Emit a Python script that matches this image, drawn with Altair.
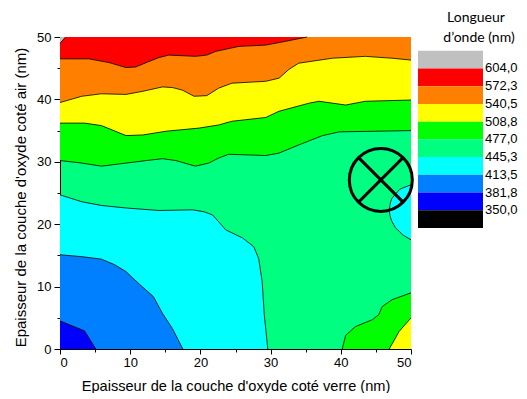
import altair as alt
import pandas as pd

# ---------------- values ----------------
x_major = [0, 10, 20, 30, 40, 50]
x_minor = [5, 15, 25, 35, 45]
y_major = [0, 10, 20, 30, 40, 50]
y_minor = [5, 15, 25, 35, 45]

legend_title = ["Longueur", "d\u2019onde (nm)"]
legend_thresholds = ["604,0", "572,3", "540,5", "508,8", "477,0",
                     "445,3", "413,5", "381,8", "350,0"]
band_names = [">604", "572-604", "540-572", "509-540", "477-509",
              "445-477", "414-445", "382-414", "350-382", "<350"]
band_colors = ["#c0c0c0", "#ff0000", "#ff8000", "#ffff00", "#00ff00",
               "#00ff80", "#00ffff", "#0080ff", "#0000ff", "#000000"]

# iso-lines (x = verre nm, y = air nm)
c604_x = [0, 0.8]
c604_y = [49.0, 50.0]

c572_x = [0, 4.1, 7.0, 9.4, 10.8, 12.5, 14.1, 15.5, 17.5, 19.3, 20.9, 22.2, 25.5, 29.3, 32.1, 35.2]
c572_y = [46.5, 46.5, 45.9, 45.1, 45.2, 46.0, 46.7, 47.1, 47.0, 46.9, 47.1, 47.7, 48.5, 48.7, 49.3, 50.0]

c540_x = [0, 3.1, 5.9, 9.4, 11.8, 14.6, 16.0, 17.4, 19.1, 20.9, 22.6, 24.5, 29.3, 31.2, 32.6, 34.0, 38.8, 43.5, 47.3, 50]
c540_y = [39.5, 40.5, 40.9, 40.8, 41.3, 42.0, 41.9, 41.5, 40.5, 40.6, 41.8, 42.6, 42.9, 43.4, 44.8, 45.8, 46.6, 46.9, 46.6, 46.3]

c508_x = [0, 3.5, 5.9, 9.4, 11.8, 15.1, 19.8, 22.6, 24.5, 29.3, 31.2, 35.5, 36.9, 40.7, 43.5, 50]
c508_y = [36.2, 36.2, 35.8, 34.2, 34.3, 34.9, 35.4, 35.9, 36.5, 37.1, 38.1, 39.4, 39.7, 39.1, 39.7, 39.9]

c477_x = [0, 3.1, 5.9, 9.4, 12.3, 14.6, 16.5, 19.3, 21.2, 22.6, 24.0, 26.9, 29.3, 31.2, 34.0, 37.4, 39.8, 50]
c477_y = [30.2, 29.8, 29.3, 29.8, 30.2, 30.5, 30.2, 29.3, 29.8, 30.6, 31.2, 31.1, 31.0, 31.4, 32.7, 34.2, 34.8, 35.0]

c445_x = [0, 3.1, 5.9, 9.4, 14.1, 18.9, 20.5, 21.7, 22.6, 23.6, 26.0, 27.6, 28.3, 28.8, 29.1, 29.6]
c445_y = [24.7, 23.6, 23.0, 22.6, 22.2, 22.3, 22.0, 21.5, 20.4, 19.1, 17.8, 16.4, 14.5, 10.8, 5.5, 0]

c413_x = [0, 3.1, 5.9, 7.8, 9.4, 11.4, 13.3, 14.6, 16.0, 17.5]
c413_y = [15.1, 14.8, 14.4, 13.5, 12.4, 10.3, 8.4, 5.7, 3.3, 0]

c381_x = [0, 3.5, 5.1]
c381_y = [4.5, 2.9, 0]

# bottom-right corner
br477_x = [40.2, 40.7, 42.1, 44.5, 45.4, 45.9, 47.3, 50]
br477_y = [0, 2.2, 3.6, 4.7, 5.5, 6.8, 7.9, 9.0]
br508_x = [46.9, 48.3, 50]
br508_y = [0, 2.8, 5.0]

# cyan pocket on the right edge: upper and lower edge at the same x
blob_x = [46.9, 47.0, 47.1, 47.3, 47.8, 48.3, 48.8, 50]
blob_top = [22.2, 23.1, 23.6, 24.2, 24.8, 25.5, 25.8, 26.3]
blob_bot = [22.2, 21.4, 21.0, 20.4, 19.4, 18.9, 18.3, 17.5]

# circled cross marker
marker_x = [45.7]
marker_y = [27.1]

# ---------------- chart ----------------
FONT = "Liberation Sans"
XS = alt.Scale(domain=[0, 50], nice=False, zero=False)
YS = alt.Scale(domain=[0, 50], nice=False, zero=False)
W, H = 351, 312


def frame(xs, ys):
    return pd.DataFrame({"x": xs, "y": ys, "i": list(range(len(xs)))})


def X(axis=None):
    return alt.X("x:Q", scale=XS, axis=axis)


def Y(axis=None):
    return alt.Y("y:Q", scale=YS, axis=axis)


major_x_axis = alt.Axis(orient="bottom", values=x_major, tickSize=5, grid=False,
                        title="Epaisseur de la couche d'oxyde coté verre (nm)",
                        labelPadding=2, titlePadding=9, titleFontSize=14.6)
major_y_axis = alt.Axis(orient="left", values=y_major, tickSize=6, grid=False,
                        title="Epaisseur de la couche d'oxyde coté air (nm)",
                        labelPadding=3, titlePadding=8, titleFontSize=15, titleY=160)
minor_x_axis = alt.Axis(orient="bottom", values=x_minor, tickSize=3, labels=False,
                        domain=False, grid=False, title=None)
minor_y_axis = alt.Axis(orient="left", values=y_minor, tickSize=3, labels=False,
                        domain=False, grid=False, title=None)

layers = []

# bands above an iso-line
top_bands = [(c477_x, c477_y, band_colors[4]), (c508_x, c508_y, band_colors[3]),
             (c540_x, c540_y, band_colors[2]), (c572_x, c572_y, band_colors[1]),
             (c604_x, c604_y, band_colors[0])]
for k, (xs, ys, col) in enumerate(top_bands):
    if k == 0:
        enc = dict(x=X(major_x_axis), y=Y(major_y_axis))
    elif k == 1:
        enc = dict(x=X(minor_x_axis), y=Y(minor_y_axis))
    else:
        enc = dict(x=X(), y=Y())
    layers.append(alt.Chart(frame(xs, ys)).mark_area(color=col, opacity=1)
                  .encode(y2=alt.datum(50), **enc))

# bands below an iso-line
low_bands = [(c445_x, c445_y, band_colors[6]), (c413_x, c413_y, band_colors[7]),
             (c381_x, c381_y, band_colors[8]), (br477_x, br477_y, band_colors[4]),
             (br508_x, br508_y, band_colors[3])]
for xs, ys, col in low_bands:
    layers.append(alt.Chart(frame(xs, ys)).mark_area(color=col, opacity=1)
                  .encode(x=X(), y=Y(), y2=alt.datum(0)))

blob = pd.DataFrame({"x": blob_x, "top": blob_top, "bot": blob_bot})
layers.append(alt.Chart(blob).mark_area(color=band_colors[6], opacity=1)
              .encode(x=X(), y=alt.Y("top:Q", scale=YS, axis=None), y2="bot:Q"))

# iso-line strokes
edges = [(xs, ys) for xs, ys, _ in top_bands + low_bands] + \
        [(blob_x, blob_top), (blob_x, blob_bot)]
for xs, ys in edges:
    layers.append(alt.Chart(frame(xs, ys)).mark_line(color="black", strokeWidth=0.8)
                  .encode(x=X(), y=Y(), order="i:Q"))

# marker
mk = frame(marker_x, marker_y)
layers.append(alt.Chart(mk).mark_point(shape="circle", size=63 ** 2, filled=False,
                                       color="black", strokeWidth=3, opacity=1)
              .encode(x=X(), y=Y()))
layers.append(alt.Chart(mk).mark_point(
    shape="M-0.7071,-0.7071L0.7071,0.7071M-0.7071,0.7071L0.7071,-0.7071",
    size=63 ** 2, filled=False, color="black", strokeWidth=3, opacity=1)
    .encode(x=X(), y=Y()))

main = alt.layer(*layers).resolve_axis(x="independent", y="independent")

# ---------------- colour key (own vertical scale, to the right of the plot) ----------------
LY = alt.Scale(domain=[-0.773, 16.824], nice=False, zero=False, reverse=True)
key_df = pd.DataFrame({"band": band_names, "i": list(range(10)),
                       "i2": list(range(1, 11))})
key_rects = alt.Chart(key_df).mark_rect().encode(
    y=alt.Y("i:Q", scale=LY, axis=None), y2="i2:Q",
    x=alt.value(358), x2=alt.value(423),
    color=alt.Color("band:N", scale=alt.Scale(domain=band_names, range=band_colors),
                    legend=None))
lab_df = pd.DataFrame({"t": legend_thresholds, "k": list(range(1, 10))})
key_labels = alt.Chart(lab_df).mark_text(align="left", baseline="middle", font=FONT,
                                         fontSize=13, color="black").encode(
    y=alt.Y("k:Q", scale=LY, axis=None), x=alt.value(425), text="t:N")
tit_df = pd.DataFrame({"t": legend_title, "k": [-1.619, -0.491], "off": [416, 419]})
key_title = alt.Chart(tit_df).mark_text(align="center", baseline="alphabetic", font="Lato",
                                        fontSize=14, color="black").encode(
    y=alt.Y("k:Q", scale=LY, axis=None), x=alt.X("off:Q", scale=None, axis=None),
    text="t:N")
key = alt.layer(key_rects, key_labels, key_title)

chart = alt.layer(main, key).resolve_scale(y="independent", color="independent").properties(
    width=W, height=H,
    padding={"left": 5, "top": 3, "right": 0, "bottom": 0}
).configure_view(stroke=None, fill=band_colors[5]).configure_axis(
    labelFont=FONT, titleFont=FONT, labelFontSize=13,
    titleFontWeight="normal", labelColor="black", titleColor="black",
    domainColor="black", tickColor="black", domainWidth=1, tickWidth=1
)

chart.save("out.html", embed_options={"renderer": "svg", "actions": False})
